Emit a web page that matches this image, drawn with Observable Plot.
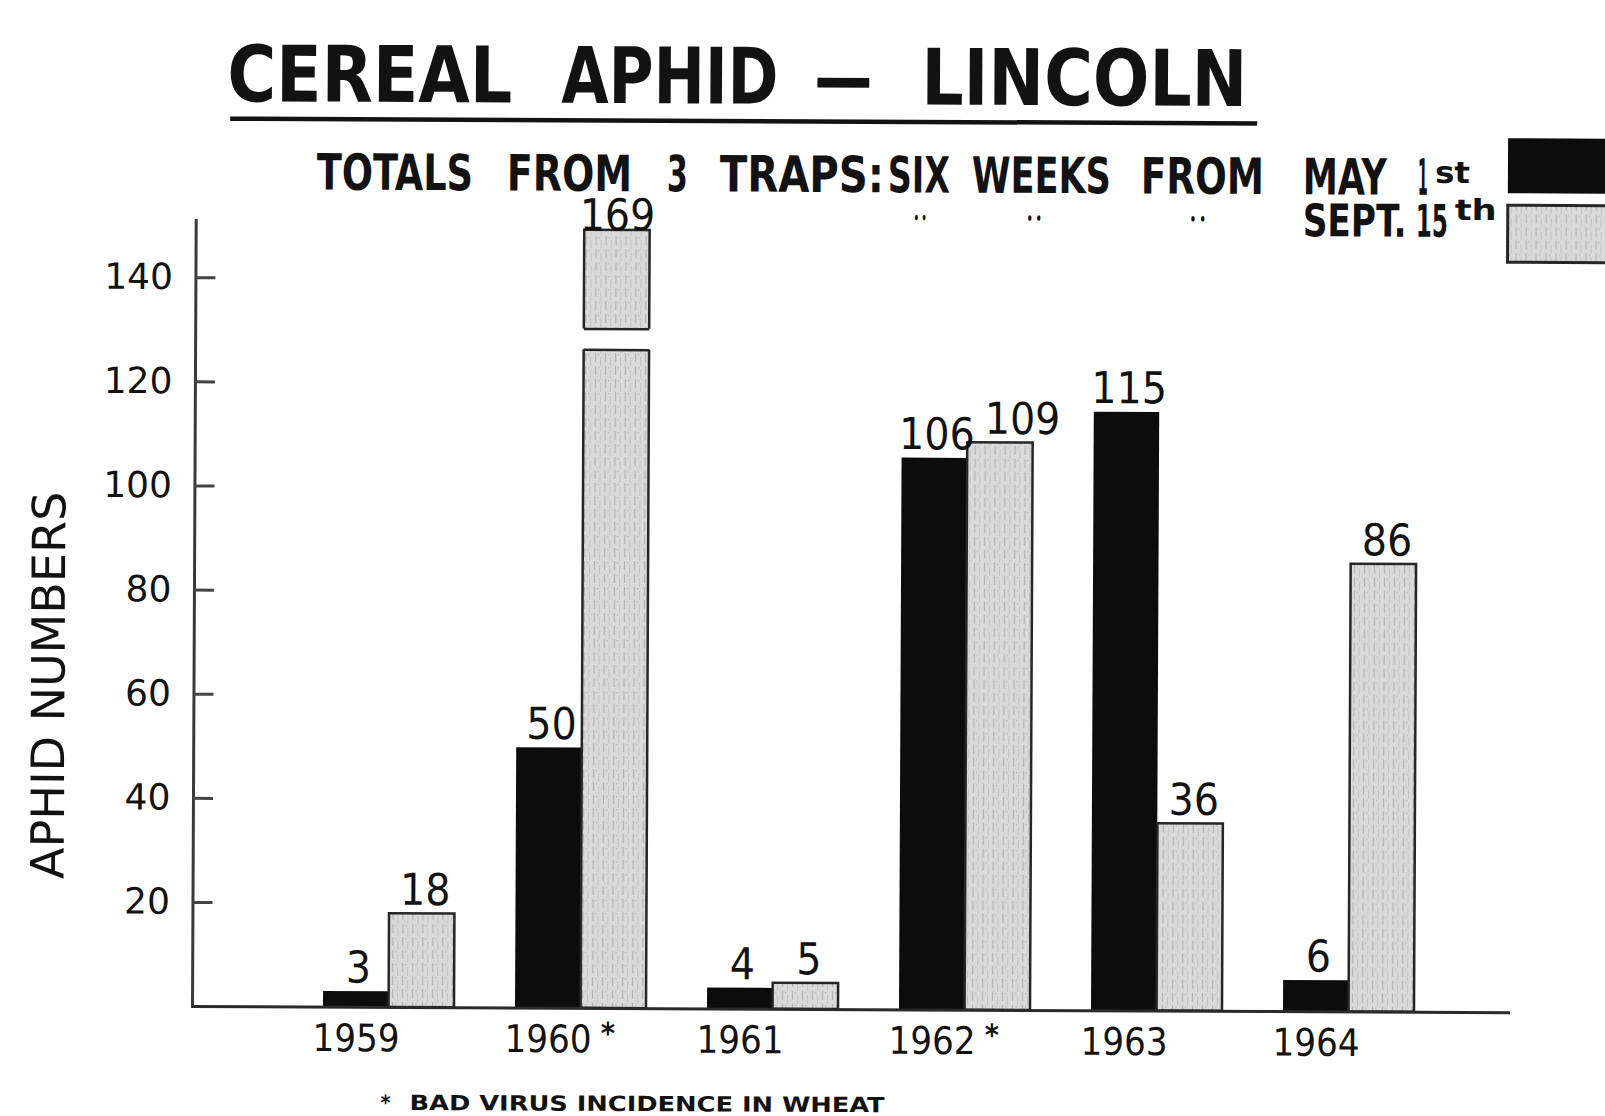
<!DOCTYPE html>
<html>
<head>
<meta charset="utf-8">
<script src="https://cdn.jsdelivr.net/npm/d3@7"></script>
<script src="https://cdn.jsdelivr.net/npm/@observablehq/plot@0.6"></script>
<style>
  html, body { margin: 0; padding: 0; background: #fff; overflow: hidden; }
  #chart { width: 1605px; height: 1116px; position: relative; }
  #chart svg { display: block; transform-origin: 192px 1006px; transform: rotate(0.27deg); }
</style>
</head>
<body>
<div id="chart"></div>
<script>
// ---- data ----
const years = ["1959", "1960", "1961", "1962", "1963", "1964"];
const maySixWeeks = [3, 50, 4, 106, 115, 6];        // six weeks from May 1st (black)
const septSixWeeks = [18, 169, 5, 109, 36, 86];     // six weeks from Sept 15th (stippled)
const virusYears = ["1960", "1962"];                 // bad virus incidence in wheat
const yTicks = [20, 40, 60, 80, 100, 120, 140];
const brokenYear = "1960";                           // the 169 bar is drawn broken
const breakLower = 126.5, breakUpper = 130.5, brokenTop = 149.5;
const nudgedSeptLabel = "1962";                      // the 109 label sits to the right of 106

// ---- layout ----
const W = 1605, H = 1116, mL = 192, mR = 95, mT = 220, mB = 110;
const padIn = 0.32, padOut = 0.5765, align = 0.577;
const band = d3.scaleBand(years, [mL, W - mR]).paddingInner(padIn).paddingOuter(padOut).align(align);
const half = band.bandwidth() / 2;
const q = half / 2;

const rows = years.map((year, i) => ({year, may: maySixWeeks[i], sept: septSixWeeks[i]}));
const broken = rows.filter(d => d.year === brokenYear);
const drawnSept = d => (d.year === brokenYear ? brokenTop : d.sept);
const septPlain = rows.filter(d => d.year !== brokenYear && d.year !== nudgedSeptLabel);
const septNudged = rows.filter(d => d.year === nudgedSeptLabel);

const NARROW = "'Liberation Sans Narrow', 'DejaVu Sans Condensed', 'Liberation Sans', sans-serif";
const INK = "#121212";
const LBL = 44;

const chart = Plot.plot({
  width: W, height: H,
  marginLeft: mL, marginRight: mR, marginTop: mT, marginBottom: mB,
  style: {background: "white", fontFamily: NARROW, color: INK},
  x: {domain: years, paddingInner: padIn, paddingOuter: padOut, align, axis: null},
  y: {domain: [0, 151], axis: null},
  marks: [
    Plot.barY(rows, {x: "year", y: "may", fill: "#0c0c0c", insetRight: half}),
    Plot.barY(rows, {x: "year", y: drawnSept, fill: "url(#stipple)", stroke: "#262626", strokeWidth: 2.5, insetLeft: half}),
    Plot.barY(broken, {x: "year", y1: () => breakLower, y2: () => breakUpper, fill: "white", insetLeft: half - 4, insetRight: -4}),
    Plot.tickY(broken, {x: "year", y: () => breakLower, insetLeft: half, stroke: "#262626", strokeWidth: 2.5}),
    Plot.tickY(broken, {x: "year", y: () => breakUpper, insetLeft: half, stroke: "#262626", strokeWidth: 2.5}),
    Plot.frame({anchor: "left", stroke: "#3a3a3a", strokeWidth: 3}),
    Plot.ruleY([0], {stroke: "#2a2a2a", strokeWidth: 3}),
    Plot.axisY({ticks: yTicks, tickSize: -20, fill: "none", stroke: "#444", strokeWidth: 3, label: null}),
    Plot.axisY({ticks: yTicks, tickSize: 0, tickPadding: 23, fontSize: 36, fontFamily: "'DejaVu Sans', sans-serif", fill: INK, label: null}),
    Plot.axisX({tickSize: 0, tickPadding: 17, dx: -q, fontSize: 38, fill: INK, label: null}),
    Plot.text(virusYears, {x: d => d, text: () => "*", frameAnchor: "bottom", lineAnchor: "top", dy: 14, dx: 27, fontSize: 30, fontWeight: "bold", fill: INK}),
    Plot.text(rows, {x: "year", y: "may", text: d => String(d.may), dx: -q + 2, dy: -9, lineAnchor: "bottom", fontSize: LBL, fill: INK}),
    Plot.text(septPlain, {x: "year", y: "sept", text: d => String(d.sept), dx: q + 3, dy: -9, lineAnchor: "bottom", fontSize: LBL, fill: INK}),
    Plot.text(septNudged, {x: "year", y: "sept", text: d => String(d.sept), dx: q + 22, dy: -9, lineAnchor: "bottom", fontSize: LBL, fill: INK}),
    Plot.text(broken, {x: "year", y: drawnSept, text: d => String(d.sept), dx: q, dy: 0, lineAnchor: "bottom", fontSize: LBL, fill: INK})
  ]
});

document.getElementById("chart").appendChild(chart);

// ---- stipple pattern for the Sept bars ----
const svg = d3.select(chart);
const defs = svg.insert("defs", ":first-child");
const pat = defs.append("pattern").attr("id", "stipple").attr("patternUnits", "userSpaceOnUse")
  .attr("width", 10).attr("height", 13);
pat.append("rect").attr("width", 10).attr("height", 13).attr("fill", "#dadada");
pat.append("line").attr("x1", 2.5).attr("x2", 2.5).attr("y1", 0).attr("y2", 9).attr("stroke", "#b3b3b3").attr("stroke-width", 1.3);
pat.append("line").attr("x1", 7.5).attr("x2", 7.5).attr("y1", 4).attr("y2", 13).attr("stroke", "#c2c2c2").attr("stroke-width", 1);
pat.append("rect").attr("x", 5).attr("y", 1).attr("width", 1.5).attr("height", 1.5).attr("fill", "#bdbdbd");

// ---- title, subtitle, legend, footnote ----
const g = svg.append("g").attr("fill", INK).attr("font-family", NARROW).attr("text-anchor", "start");
function word(txt, x0, x1, baseline, size, weight = "bold", extra = {}) {
  const t = g.append("text").text(txt)
    .attr("x", x0).attr("y", baseline)
    .attr("text-anchor", "start")
    .attr("font-size", size).attr("font-weight", weight)
    .attr("textLength", x1 - x0).attr("lengthAdjust", "spacingAndGlyphs");
  for (const k in extra) t.attr(k, extra[k]);
  return t;
}
// title
word("CEREAL", 223, 508, 101, 78);
word("APHID", 557, 774, 101, 78);
word("—", 810, 868, 101, 78);
word("LINCOLN", 917, 1243, 101, 78);
g.append("line").attr("x1", 226).attr("x2", 1253).attr("y1", 118.5).attr("y2", 118.5)
  .attr("stroke", INK).attr("stroke-width", 4.5);
// subtitle line 1
word("TOTALS", 313, 469, 189, 50);
word("FROM", 503, 628, 189, 50);
word("3", 663, 684, 189, 50);
word("TRAPS:", 716, 880, 189, 50);
word("SIX", 884, 946, 189, 50);
word("WEEKS", 968, 1107, 189, 50);
word("FROM", 1137, 1260, 189, 50);
word("MAY", 1299, 1383, 189, 50);
word("1", 1414, 1424, 189, 50);
word("st", 1431, 1466, 177, 30);
// subtitle line 2 (ditto marks)
word("• •", 910, 923, 220, 16);
word("• •", 1023, 1038, 220, 16);
word("• •", 1186, 1202, 220, 16);
word("SEPT.", 1299, 1403, 231, 45);
word("15", 1412, 1444, 231, 45);
word("th", 1451, 1493, 214, 29);
// legend swatches
g.append("rect").attr("x", 1504).attr("y", 132).attr("width", 120).attr("height", 55).attr("fill", "#0c0c0c");
g.append("rect").attr("x", 1504).attr("y", 199).attr("width", 120).attr("height", 57)
  .attr("fill", "url(#stipple)").attr("stroke", "#262626").attr("stroke-width", 3);
// y label
word("APHID NUMBERS", 0, 387, 0, 46, "normal", {transform: "translate(63,879.5) rotate(-90)"});
// footnote
word("*", 381, 391, 1109, 21);
word("BAD VIRUS INCIDENCE IN WHEAT", 410, 885, 1109, 21);
</script>
</body>
</html>
